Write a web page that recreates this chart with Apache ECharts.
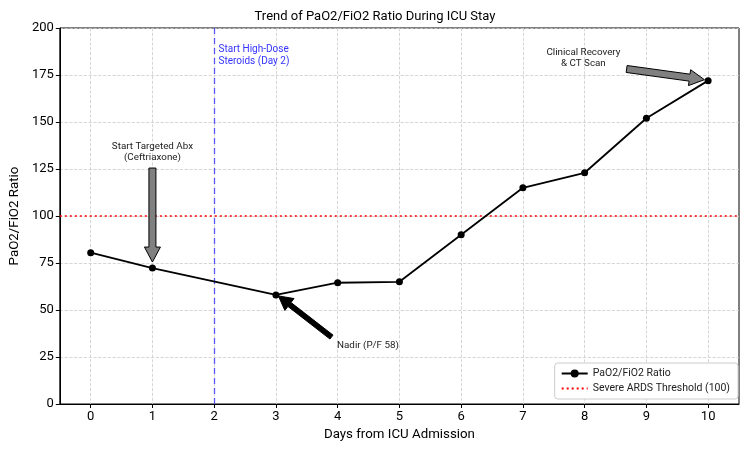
<!DOCTYPE html>
<html>
<head>
<meta charset="utf-8">
<script src="https://cdn.jsdelivr.net/npm/echarts@6/dist/echarts.min.js"></script>
<style>
  html, body { margin: 0; padding: 0; background: #fff; }
  #chart { width: 750px; height: 450px; }
</style>
</head>
<body>
<div id="chart"></div>
<script>
  // data
  const days = [0, 1, 3, 4, 5, 6, 7, 8, 9, 10];
  const ratio = [80.5, 72.3, 58, 64.5, 65, 90, 115, 123, 152, 172];
  const dayTicks = [0, 1, 2, 3, 4, 5, 6, 7, 8, 9, 10];
  const thresholdValue = 100;
  const steroidDay = 2;

  const font = 'Roboto, "Noto Sans", sans-serif';
  const chart = echarts.init(document.getElementById('chart'));

  chart.setOption({
    animation: false,
    title: {
      text: 'Trend of PaO2/FiO2 Ratio During ICU Stay',
      left: 'center',
      top: 5,
      textStyle: { fontFamily: font, fontSize: 13, fontWeight: 'normal', color: '#000' },
    },
    grid: {
      left: 58, right: 11, top: 28, bottom: 46,
      show: true, borderColor: '#000', borderWidth: 1,
    },
    legend: {
      orient: 'vertical',
      right: 12,
      bottom: 51,
      itemWidth: 26,
      itemHeight: 10,
      itemGap: 4,
      padding: [5, 8, 5, 6],
      backgroundColor: '#fff',
      borderColor: '#ccc',
      borderWidth: 1,
      borderRadius: 3,
      textStyle: { fontFamily: font, fontSize: 10.5, color: '#222' },
      data: [
        'PaO2/FiO2 Ratio',
        { name: 'Severe ARDS Threshold (100)', itemStyle: { opacity: 0 } },
      ],
    },
    xAxis: {
      type: 'value',
      min: -0.5,
      max: 10.5,
      name: 'Days from ICU Admission',
      nameLocation: 'middle',
      nameGap: 22,
      nameTextStyle: { fontFamily: font, fontSize: 13.3, color: '#000' },
      axisLine: { lineStyle: { color: '#000' } },
      axisTick: { customValues: dayTicks, length: 4, lineStyle: { color: '#000' } },
      axisLabel: { customValues: dayTicks, fontFamily: font, fontSize: 13, color: '#000', margin: 6 },
      splitLine: { show: true, lineStyle: { color: '#ccc', type: 'dashed', width: 0.8 } },
    },
    yAxis: {
      type: 'value',
      min: 0,
      max: 200,
      interval: 25,
      name: 'PaO2/FiO2 Ratio',
      nameLocation: 'middle',
      nameGap: 32,
      nameTextStyle: { fontFamily: font, fontSize: 13.3, color: '#000' },
      axisLine: { show: true, onZero: false, lineStyle: { color: '#000' } },
      axisTick: { show: true, length: 4, lineStyle: { color: '#000' } },
      axisLabel: { fontFamily: font, fontSize: 13, color: '#000', margin: 6 },
      splitLine: { show: true, lineStyle: { color: '#ccc', type: 'dashed', width: 0.8 } },
    },
    series: [
      {
        name: 'PaO2/FiO2 Ratio',
        type: 'line',
        data: days.map((d, i) => [d, ratio[i]]),
        symbol: 'circle',
        symbolSize: 7,
        itemStyle: { color: '#000' },
        lineStyle: { color: '#000', width: 1.8 },
        z: 5,
        markLine: {
          silent: true,
          symbol: 'none',
          label: { show: false },
          lineStyle: { color: 'rgba(40,40,255,0.75)', type: [6, 4], width: 1.3 },
          data: [{ xAxis: steroidDay }],
        },
      },
      {
        name: 'Severe ARDS Threshold (100)',
        type: 'line',
        data: [[-0.5, thresholdValue], [10.5, thresholdValue]],
        symbol: 'none',
        itemStyle: { color: '#ff0000' },
        lineStyle: { color: '#ff0000', type: [2, 3], width: 1.5 },
        z: 3,
      },
    ],
  });

  // annotations in data coordinates
  const notes = [
    { text: 'Start Targeted Abx\n(Ceftriaxone)', at: [1, 128.3], align: 'center', vAlign: 'bottom',
      tail: [1, 125.5], tip: [1, 75.5], fill: '#808080', shaft: 7, head: 16, headLen: 15 },
    { text: 'Nadir (P/F 58)', at: [3.99, 34], align: 'left', vAlign: 'top',
      tail: [3.9, 35.6], tip: [3.04, 57.5], fill: '#000', shaft: 5, head: 15, headLen: 14 },
    { text: 'Clinical Recovery\n& CT Scan', at: [7.98, 190], align: 'center', vAlign: 'top',
      tail: [8.68, 178.2], tip: [9.94, 172.5], fill: '#808080', shaft: 7, head: 16, headLen: 15 },
  ];

  function arrowPoints(a, b, shaft, head, headLen) {
    const dx = b[0] - a[0], dy = b[1] - a[1];
    const len = Math.sqrt(dx * dx + dy * dy);
    const ux = dx / len, uy = dy / len;
    const nx = -uy, ny = ux;
    const bx = b[0] - ux * headLen, by = b[1] - uy * headLen;
    const s = shaft / 2, h = head / 2;
    return [
      [a[0] + nx * s, a[1] + ny * s],
      [bx + nx * s, by + ny * s],
      [bx + nx * h, by + ny * h],
      [b[0], b[1]],
      [bx - nx * h, by - ny * h],
      [bx - nx * s, by - ny * s],
      [a[0] - nx * s, a[1] - ny * s],
    ];
  }

  const graphics = [];
  notes.forEach((n) => {
    const p = chart.convertToPixel({ gridIndex: 0 }, n.at);
    const a = chart.convertToPixel({ gridIndex: 0 }, n.tail);
    const b = chart.convertToPixel({ gridIndex: 0 }, n.tip);
    graphics.push({
      type: 'polygon',
      shape: { points: arrowPoints(a, b, n.shaft, n.head, n.headLen) },
      style: { fill: n.fill, stroke: '#000', lineWidth: 1 },
      z: 10,
    });
    graphics.push({
      type: 'text',
      x: p[0], y: p[1],
      style: {
        text: n.text, fontFamily: font, fontSize: 9.8, fill: '#222',
        align: n.align, verticalAlign: n.vAlign, lineHeight: 11,
      },
      z: 10,
    });
  });
  const sp = chart.convertToPixel({ gridIndex: 0 }, [2.07, 192]);
  graphics.push({
    type: 'text',
    x: sp[0], y: sp[1],
    style: {
      text: 'Start High-Dose\nSteroids (Day 2)', fontFamily: font, fontSize: 10,
      fill: '#3333ff', align: 'left', verticalAlign: 'top', lineHeight: 12,
    },
    z: 10,
  });
  chart.setOption({ graphic: graphics });

  window.addEventListener('resize', function () {
    chart && chart.resize();
  });
</script>
</body>
</html>
